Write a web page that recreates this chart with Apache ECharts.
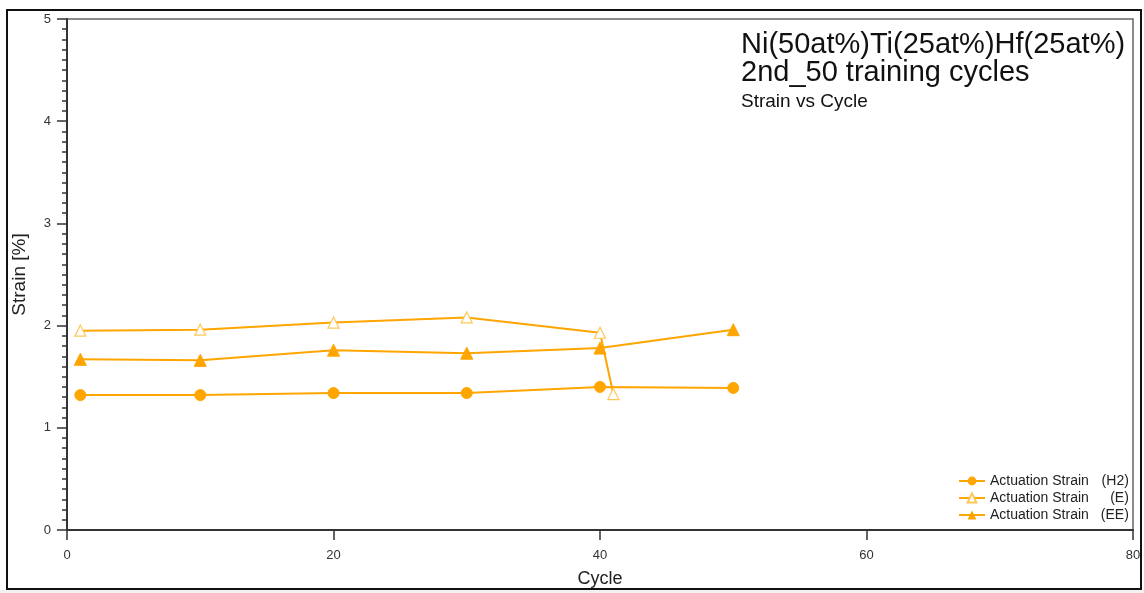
<!DOCTYPE html>
<html>
<head>
<meta charset="utf-8">
<script src="https://cdn.jsdelivr.net/npm/echarts@6/dist/echarts.min.js"></script>
<style>
  html, body { margin: 0; padding: 0; background: #fff; }
  #chart { width: 1144px; height: 593px; }
</style>
</head>
<body>
<div id="chart"></div>
<script>
// Cycle numbers and actuation strain [%] for each test condition
const cyclesH2 = [1, 10, 20, 30, 40, 50];
const strainH2 = [1.32, 1.32, 1.34, 1.34, 1.40, 1.39];

const cyclesE = [1, 10, 20, 30, 40, 41];
const strainE = [1.95, 1.96, 2.03, 2.08, 1.93, 1.33];

const cyclesEE = [1, 10, 20, 30, 40, 50];
const strainEE = [1.67, 1.66, 1.76, 1.73, 1.78, 1.96];

const seriesNames = ['Actuation Strain (H2)', 'Actuation Strain (E)', 'Actuation Strain (EE)'];
const seriesTags = ['(H2)', '(E)', '(EE)'];

const titleLines = ['Ni(50at%)Ti(25at%)Hf(25at%)', '2nd_50 training cycles', 'Strain vs Cycle'];

const ORANGE = '#FFA500';
const FONT = 'Liberation Sans, Arial, sans-serif';

function pairs(xs, ys) { return xs.map((x, i) => [x, ys[i]]); }

const chart = echarts.init(document.getElementById('chart'), null, { renderer: 'canvas' });

chart.setOption({
  backgroundColor: '#fff',
  animation: false,
  textStyle: { fontFamily: FONT },
  graphic: [
    { type: 'rect', shape: { x: 7, y: 10, width: 1134, height: 579 }, style: { fill: 'none', stroke: '#111', lineWidth: 2 }, z: 0 },
    { type: 'rect', shape: { x: 0, y: 590, width: 1144, height: 3 }, style: { fill: '#f1f1f1' }, z: 0 },
    { type: 'text', left: 741, top: 30, style: { text: titleLines[0], fontSize: 29, fill: '#111', fontFamily: FONT } },
    { type: 'text', left: 741, top: 58, style: { text: titleLines[1], fontSize: 29, fill: '#111', fontFamily: FONT } },
    { type: 'text', left: 741, top: 92, style: { text: titleLines[2], fontSize: 19, fill: '#111', fontFamily: FONT } }
  ],
  grid: {
    left: 67, right: 11, top: 19, bottom: 60,
    show: true, borderColor: '#666', borderWidth: 1.5, backgroundColor: '#fff'
  },
  legend: {
    orient: 'vertical',
    left: 953, top: 469,
    itemWidth: 26, itemHeight: 11, itemGap: 3,
    data: seriesNames,
    formatter: function (name) {
      const i = seriesNames.indexOf(name);
      return '{n|Actuation Strain}{t|' + seriesTags[i] + '}';
    },
    textStyle: {
      fontSize: 14, color: '#222', fontFamily: FONT,
      rich: {
        n: { fontSize: 14, color: '#222', fontFamily: FONT },
        t: { fontSize: 14, color: '#222', fontFamily: FONT, width: 40, align: 'right' }
      }
    }
  },
  xAxis: {
    type: 'value', min: 0, max: 80, interval: 20,
    name: 'Cycle', nameLocation: 'middle', nameGap: 40,
    nameTextStyle: { fontSize: 18, color: '#222', fontFamily: FONT },
    axisLine: { show: true, onZero: false, lineStyle: { color: '#333', width: 2 } },
    axisTick: { show: true, length: 10, lineStyle: { color: '#333', width: 1.5 } },
    axisLabel: { fontSize: 13, color: '#333', margin: 19, fontFamily: FONT },
    splitLine: { show: false }
  },
  yAxis: {
    type: 'value', min: 0, max: 5, interval: 1,
    name: 'Strain [%]', nameLocation: 'middle', nameGap: 38, nameRotate: 90,
    nameTextStyle: { fontSize: 19, color: '#222', fontFamily: FONT },
    axisLine: { show: true, onZero: false, lineStyle: { color: '#333', width: 2 } },
    axisTick: { show: true, length: 10, lineStyle: { color: '#333', width: 1.5 } },
    minorTick: { show: true, splitNumber: 10, length: 5, lineStyle: { color: '#333', width: 1.5 } },
    axisLabel: { fontSize: 13, color: '#333', margin: 16, fontFamily: FONT },
    splitLine: { show: false }
  },
  series: [
    {
      name: seriesNames[0], type: 'line', data: pairs(cyclesH2, strainH2),
      symbol: 'circle', symbolSize: 11,
      lineStyle: { color: ORANGE, width: 2 },
      itemStyle: { color: ORANGE, borderColor: ORANGE }
    },
    {
      name: seriesNames[1], type: 'line', data: pairs(cyclesE, strainE),
      symbol: 'triangle', symbolSize: 11,
      lineStyle: { color: ORANGE, width: 2 },
      itemStyle: { color: '#fff', borderColor: '#FFC75A', borderWidth: 1.2 }
    },
    {
      name: seriesNames[2], type: 'line', data: pairs(cyclesEE, strainEE),
      symbol: 'triangle', symbolSize: 12,
      lineStyle: { color: ORANGE, width: 2 },
      itemStyle: { color: ORANGE, borderColor: ORANGE }
    }
  ]
});
</script>
</body>
</html>
